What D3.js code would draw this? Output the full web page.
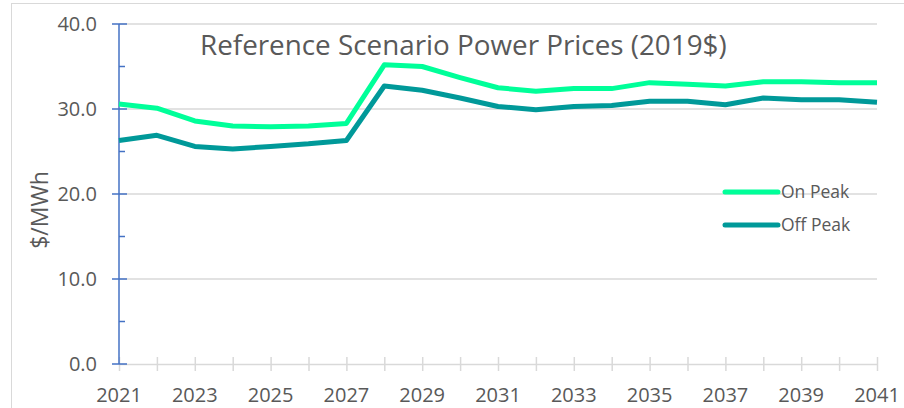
<!DOCTYPE html>
<html>
<head>
<meta charset="utf-8">
<script src="https://cdn.jsdelivr.net/npm/d3@7"></script>
<style>
  body { margin: 0; background: #fff; }
  text { font-family: 'Open Sans', 'Noto Sans', sans-serif; fill: #595959; }
</style>
</head>
<body>
<div id="chart"></div>
<script>
const years = d3.range(2021, 2042)
const onPeak = [30.6, 30.1, 28.6, 28.0, 27.9, 28.0, 28.3, 35.2, 35.0, 33.7, 32.5,
  32.1, 32.4, 32.4, 33.1, 32.9, 32.7, 33.2, 33.2, 33.1, 33.1]
const offPeak = [26.3, 26.9, 25.6, 25.3, 25.6, 25.9, 26.3, 32.7, 32.2, 31.3, 30.3,
  29.9, 30.3, 30.4, 30.9, 30.9, 30.5, 31.3, 31.1, 31.1, 30.8]
const yTicks = [0, 10, 20, 30, 40]
const xLabels = d3.range(2021, 2042, 2)
const seriesNames = ['On Peak', 'Off Peak']
const colors = ['#00FF99', '#009999']

const margin = { top: 24, left: 119, right: 27, bottom: 44 }
const fullW = 904
const fullH = 408
const width = fullW - margin.left - margin.right
const height = fullH - margin.top - margin.bottom

const root = d3.select('#chart').append('svg')
  .attr('width', fullW).attr('height', fullH)

// outer chart border
root.append('rect')
  .attr('x', 11.5).attr('y', 3.5)
  .attr('width', 1000).attr('height', 1000)
  .attr('fill', 'none').attr('stroke', '#d9d9d9')

const svg = root.append('g')
  .attr('transform', 'translate(' + margin.left + ',' + margin.top + ')')

const x = d3.scaleLinear().domain([2021, 2041]).range([0, width])
const y = d3.scaleLinear().domain([0, 40]).range([height, 0])

// gridlines
svg.selectAll('.grid').data(yTicks.filter(d => d > 0)).enter()
  .append('line')
  .attr('x1', 0).attr('x2', width)
  .attr('y1', d => y(d)).attr('y2', d => y(d))
  .attr('stroke', '#d9d9d9').attr('stroke-width', 1.5)

// x axis
const xAxis = d3.axisBottom(x).tickValues(years).tickSize(0).tickFormat('')
const xg = svg.append('g').attr('transform', 'translate(0,' + height + ')').call(xAxis)
xg.select('.domain').attr('stroke', '#d9d9d9').attr('stroke-width', 1.5)
xg.selectAll('.tick line').attr('y1', -7).attr('y2', 7)
  .attr('stroke', '#d9d9d9').attr('stroke-width', 1.5)
xg.selectAll('.lbl').data(xLabels).enter()
  .append('text')
  .attr('x', d => x(d)).attr('y', 38)
  .attr('text-anchor', 'middle')
  .style('font-size', '20px')
  .text(d => d)

// y axis
const yg = svg.append('g')
yg.append('line').attr('x1', 0).attr('x2', 0).attr('y1', 0).attr('y2', height)
  .attr('stroke', '#4472C4').attr('stroke-width', 1.5)
yg.selectAll('.major').data(yTicks).enter().append('line')
  .attr('x1', -7).attr('x2', 8)
  .attr('y1', d => y(d)).attr('y2', d => y(d))
  .attr('stroke', '#4472C4').attr('stroke-width', 1.5)
yg.selectAll('.minor').data(yTicks.slice(0, -1).map(d => d + 5)).enter().append('line')
  .attr('x1', 0).attr('x2', 6)
  .attr('y1', d => y(d)).attr('y2', d => y(d))
  .attr('stroke', '#4472C4').attr('stroke-width', 1.5)
yg.selectAll('.ylbl').data(yTicks).enter().append('text')
  .attr('x', -22).attr('y', d => y(d)).attr('dy', '0.35em')
  .attr('text-anchor', 'end')
  .style('font-size', '20px')
  .text(d => d3.format('.1f')(d))

root.append('text')
  .attr('transform', 'translate(40,210) rotate(-90)')
  .attr('dy', '0.35em')
  .attr('text-anchor', 'middle')
  .style('font-size', '23px')
  .text('$/MWh')

// lines
const line = d3.line().x((d, i) => x(years[i])).y(d => y(d))
;[onPeak, offPeak].forEach((s, i) => {
  svg.append('path').datum(s)
    .attr('d', line)
    .attr('fill', 'none')
    .attr('stroke', colors[i])
    .attr('stroke-width', 5)
    .attr('stroke-linejoin', 'round')
})

// title
const title = root.append('text')
  .attr('x', 200).attr('y', 55)
  .style('font-size', '22px')
  .text('Reference Scenario Power Prices (2019$)')
const tw = title.node().getComputedTextLength()
title.style('font-size', (22 * 527 / tw) + 'px')

// legend
const legend = root.append('g')
seriesNames.forEach((name, i) => {
  const ly = 192 + i * 33
  legend.append('line')
    .attr('x1', 725).attr('x2', 778).attr('y1', ly).attr('y2', ly)
    .attr('stroke', colors[i]).attr('stroke-width', 5)
    .attr('stroke-linecap', 'round')
  legend.append('text')
    .attr('x', 781).attr('y', ly).attr('dy', '0.35em')
    .style('font-size', '17.5px')
    .text(name)
})
</script>
</body>
</html>
